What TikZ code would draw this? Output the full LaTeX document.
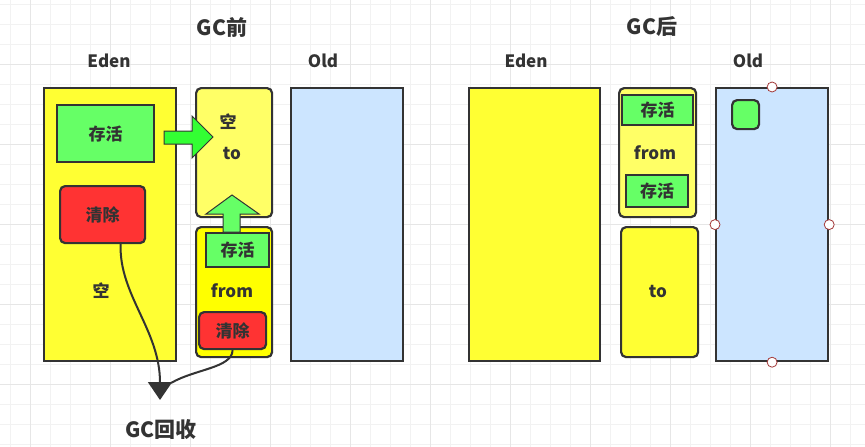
\documentclass[tikz,border=0pt]{standalone}
\usepackage{fontspec}
\setmainfont{Noto Sans CJK SC}
\usetikzlibrary{arrows.meta}

\definecolor{ink}{HTML}{333333}
\definecolor{edenyel}{HTML}{FFFF33}
\definecolor{toyel}{HTML}{FFFF66}
\definecolor{fromyel}{HTML}{FFFF00}
\definecolor{livegreen}{HTML}{66FF66}
\definecolor{arrowgreen}{HTML}{33FF33}
\definecolor{delred}{HTML}{FF3333}
\definecolor{oldblue}{HTML}{CCE5FF}
\definecolor{gridthin}{HTML}{F2F2F2}
\definecolor{gridthick}{HTML}{E6E6E6}
\definecolor{handle}{HTML}{A33A3A}

\tikzset{
  box/.style={draw=ink, line width=2.2pt, anchor=north west, inner sep=0pt},
  edenbox/.style={box, fill=edenyel},
  survbox/.style={box, rounded corners=5pt},
  oldbox/.style={box, fill=oldblue},
  livebox/.style={box, fill=livegreen},
  delbox/.style={box, fill=delred, rounded corners=5pt},
  lbl/.style={text=ink, font=\fontsize{17}{19}\selectfont\bfseries},
  title/.style={text=ink, font=\fontsize{21}{23}\selectfont\bfseries},
  blockarrow/.style={draw=ink, line width=1pt, fill=arrowgreen},
  gcline/.style={draw=ink, line width=2pt},
  sel/.style={circle, draw=handle, fill=white, line width=0.8pt, minimum size=10pt, inner sep=0pt}
}

\begin{document}
\begin{tikzpicture}[x=1pt,y=-1pt]
  \useasboundingbox (0,0) rectangle (865,447);
  \fill[white] (0,0) rectangle (865,447);
  % grid
  \foreach \gx in {10,30,...,850} \draw[gridthin, line width=1pt] (\gx,0) -- (\gx,447);
  \foreach \gy in {4,24,...,444} \draw[gridthin, line width=1pt] (0,\gy) -- (865,\gy);
  \foreach \gx in {30,110,...,830} \draw[gridthick, line width=1pt] (\gx,0) -- (\gx,447);
  \foreach \gy in {64,144,...,444} \draw[gridthick, line width=1pt] (0,\gy) -- (865,\gy);

  % before GC
  \node[title] (before) at (222,27) {GC前};
  \node[lbl] (edenLbl) at (109,61) {Eden};
  \node[lbl] (oldLbl) at (323,61) {Old};

  \node[edenbox, minimum width=132pt, minimum height=273pt] (eden) at (43,87) {};
  \node[livebox, minimum width=97pt, minimum height=57pt] (edenLive) at (56,104) {};
  \node[lbl] at (edenLive.center) {存活};
  \node[delbox, minimum width=85pt, minimum height=57pt] (edenDel) at (59,185) {};
  \node[lbl] at (edenDel.center) {清除};
  \node[lbl] (edenEmpty) at (101,291) {空};

  \node[survbox, fill=toyel, minimum width=76pt, minimum height=129pt] (to) at (195,87) {};
  \node[lbl] (toEmpty) at (228,122) {空};
  \node[lbl] (toLbl) at (232,153) {to};

  \node[survbox, fill=fromyel, minimum width=76pt, minimum height=130pt] (from) at (195,226) {};
  \node[livebox, minimum width=63pt, minimum height=34pt] (fromLive) at (205,232) {};
  \node[lbl] at (fromLive.center) {存活};
  \node[lbl] (fromLbl) at (232,291) {from};
  \node[delbox, minimum width=67pt, minimum height=37pt] (fromDel) at (198,311) {};
  \node[lbl] at (fromDel.center) {清除};

  \node[oldbox, minimum width=112pt, minimum height=273pt] (old) at (290,87) {};

  % copy arrows
  \draw[blockarrow] (164,131) -- (192,131) -- (192,116) -- (213,137) -- (192,158) -- (192,144) -- (164,144) -- cycle;
  \draw[blockarrow, fill=livegreen] (223,232) -- (223,214) -- (206,214) -- (232,195) -- (259,214) -- (240,214) -- (240,232) -- cycle;

  % GC
  \node[title] (gc) at (161,430) {GC回收};
  \coordinate (gcTip) at (160,400);
  \coordinate (gcJoin) at (171,383);
  \draw[gcline, -{Triangle[width=24pt,length=18pt]}] (edenDel.south) ++(18,0) .. controls (119,295) and (160,330) .. (gcTip);
  \draw[gcline] (fromDel.south) .. controls (232,368) and (195,369) .. (gcJoin);

  % after GC
  \node[title] (after) at (652,27) {GC后};
  \node[lbl] (edenLbl2) at (526,61) {Eden};
  \node[lbl] (oldLbl2) at (748,61) {Old};

  \node[edenbox, minimum width=131pt, minimum height=273pt] (eden2) at (468,87) {};

  \node[survbox, fill=toyel, minimum width=77pt, minimum height=129pt] (from2) at (618,87) {};
  \node[livebox, minimum width=71pt, minimum height=30pt] (fromLive2) at (621,94) {};
  \node[lbl] at (fromLive2.center) {存活};
  \node[lbl] (fromLbl2) at (655,153) {from};
  \node[livebox, minimum width=62pt, minimum height=32pt] (fromLive3) at (625,174) {};
  \node[lbl] at (fromLive3.center) {存活};

  \node[survbox, fill=edenyel, minimum width=77pt, minimum height=130pt] (to2) at (620,226) {};
  \node[lbl] (toLbl2) at (658,291) {to};

  \node[oldbox, minimum width=112pt, minimum height=273pt] (old2) at (715,87) {};
  \node[livebox, rounded corners=5pt, minimum width=27pt, minimum height=29pt] (oldLive) at (731,99) {};

  \foreach \a in {north,west,east,south}
    \node[sel] at (old2.\a) {};
\end{tikzpicture}
\end{document}
